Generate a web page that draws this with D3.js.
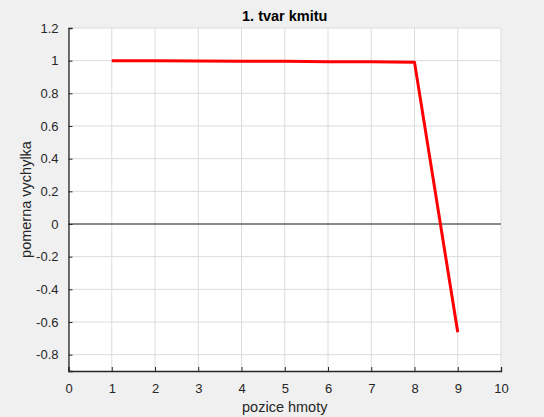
<!DOCTYPE html>
<html>
<head>
<meta charset="utf-8">
<script src="https://cdn.jsdelivr.net/npm/d3@7"></script>
<style>
  body { margin: 0; background: #f0f0f0; }
  svg { display: block; font-family: "Liberation Sans", Arial, sans-serif; }
  .tick text { fill: #262626; font-size: 13px; }
  .grid line { stroke: #dcdcdc; stroke-width: 1; }
</style>
</head>
<body>
<div id="chart"></div>
<script>
(function () {'use strict';

// data
var positions = [1, 2, 3, 4, 5, 6, 7, 8, 9];
var deflection = [1, 0.999, 0.998, 0.997, 0.996, 0.994, 0.993, 0.991, -0.663];
var xTicks = [0, 1, 2, 3, 4, 5, 6, 7, 8, 9, 10];
var yTicks = [-0.8, -0.6, -0.4, -0.2, 0, 0.2, 0.4, 0.6, 0.8, 1, 1.2];

var W = 544, H = 417,
	margin = { top: 28, right: 43, bottom: 46, left: 68.5 },
	width = W - margin.left - margin.right,
	height = H - margin.top - margin.bottom;

var x = d3.scaleLinear().domain([0, 10]).range([0, width]),
	y = d3.scaleLinear().domain([-0.9, 1.2]).range([height, 0]);

var svg = d3.select('#chart')
	.append('svg')
		.attr('width', W)
		.attr('height', H);

var chart = svg.append('g')
	.attr('transform', 'translate(' + margin.left + ',' + margin.top + ')');

// plot background
chart.append('rect')
	.attr('width', width)
	.attr('height', height)
	.attr('fill', '#ffffff');

// grid
var grid = chart.append('g').attr('class', 'grid');
grid.selectAll('.vx').data(xTicks).enter().append('line')
	.attr('x1', function (d) { return x(d); })
	.attr('x2', function (d) { return x(d); })
	.attr('y1', 0).attr('y2', height);
grid.selectAll('.hy').data(yTicks).enter().append('line')
	.attr('y1', function (d) { return y(d); })
	.attr('y2', function (d) { return y(d); })
	.attr('x1', 0).attr('x2', width);

// zero line
chart.append('line')
	.attr('x1', x(0)).attr('x2', x(10))
	.attr('y1', y(0)).attr('y2', y(0))
	.attr('stroke', '#262626')
	.attr('stroke-width', 1);

// axes (inward ticks, MATLAB style)
var xAxis = chart.append('g')
	.attr('transform', 'translate(0,' + height + ')')
	.call(d3.axisBottom(x).tickValues(xTicks).tickSize(-4).tickPadding(13).tickFormat(d3.format('d')));
var yAxis = chart.append('g')
	.call(d3.axisLeft(y).tickValues(yTicks).tickSize(-4).tickPadding(10).tickFormat(function (d) { return String(+d.toFixed(1)); }));

[xAxis, yAxis].forEach(function (a) {
	a.select('.domain').attr('stroke', '#262626').attr('stroke-width', 1.3);
	a.selectAll('.tick line').attr('stroke', '#262626');
	a.attr('font-family', null).attr('font-size', null);
});

// the mode shape
var line = d3.line()
	.x(function (d, i) { return x(positions[i]); })
	.y(function (d) { return y(d); });

chart.append('path')
	.datum(deflection)
	.attr('d', line)
	.attr('fill', 'none')
	.attr('stroke', '#ff0000')
	.attr('stroke-width', 3)
	.attr('stroke-linejoin', 'round');

// labels
svg.append('text')
	.attr('x', margin.left + width / 2)
	.attr('y', 21)
	.attr('text-anchor', 'middle')
	.attr('font-size', '14.5px')
	.attr('font-weight', 'bold')
	.attr('fill', '#000')
	.text('1. tvar kmitu');

svg.append('text')
	.attr('x', margin.left + width / 2)
	.attr('y', 412)
	.attr('text-anchor', 'middle')
	.attr('font-size', '14.5px')
	.attr('fill', '#262626')
	.text('pozice hmoty');

svg.append('text')
	.attr('transform', 'translate(31,' + (margin.top + height / 2) + ') rotate(-90)')
	.attr('text-anchor', 'middle')
	.attr('font-size', '14.5px')
	.attr('fill', '#262626')
	.text('pomerna vychylka');

})();
</script>
</body>
</html>
